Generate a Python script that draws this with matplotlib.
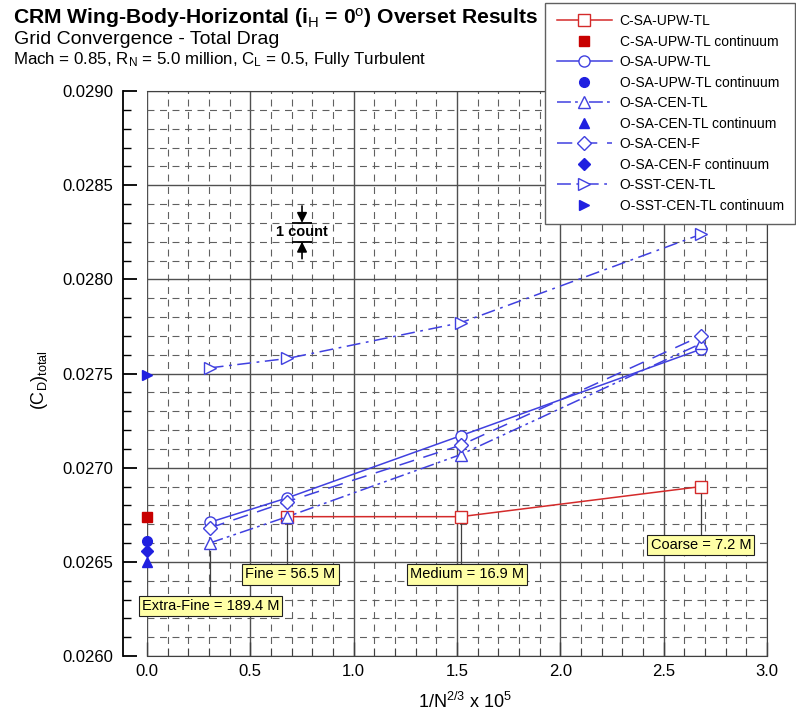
import numpy as np
import matplotlib
matplotlib.use('Agg')
import matplotlib.pyplot as plt
from matplotlib.ticker import MultipleLocator, FormatStrFormatter

plt.rcParams['font.family'] = ['Liberation Sans', 'DejaVu Sans']
plt.rcParams['mathtext.fontset'] = 'custom'
plt.rcParams['mathtext.rm'] = 'Liberation Sans'
plt.rcParams['mathtext.it'] = 'Liberation Sans'
plt.rcParams['mathtext.bf'] = 'Liberation Sans:bold'
plt.rcParams['lines.scale_dashes'] = False

# grids, extra-fine to coarse (millions of cells)
grid_names = ['Extra-Fine', 'Fine', 'Medium', 'Coarse']
grid_cells_M = [189.4, 56.5, 16.9, 7.2]
h = 1e5 / (np.array(grid_cells_M) * 1e6) ** (2.0 / 3.0)

# total drag per grid
c_sa_upw_tl = [np.nan, 0.02674, 0.02674, 0.02690]
o_sa_upw_tl = [0.02671, 0.02684, 0.02717, 0.02763]
o_sa_cen_tl = [0.02660, 0.02674, 0.02707, 0.02766]
o_sa_cen_f = [0.02668, 0.02682, 0.02712, 0.02770]
o_sst_cen_tl = [0.02753, 0.02758, 0.02777, 0.02824]

# extrapolated continuum values (h = 0)
cont_c_sa_upw_tl = 0.02674
cont_o_sa_upw_tl = 0.02661
cont_o_sa_cen_tl = 0.02650
cont_o_sa_cen_f = 0.02656
cont_o_sst_cen_tl = 0.02749

red = '#D42A2A'
red_fill = '#C80000'
blue = '#4040E0'
blue_fill = '#2020E0'

fig = plt.figure(figsize=(7.96, 7.13), dpi=100)
ax = fig.add_axes([0.1847, 0.0799, 0.7789, 0.7924])
ax.set_xlim(0, 3)
ax.set_ylim(0.026, 0.029)
ax.set_axisbelow(True)

ax.xaxis.set_major_locator(MultipleLocator(0.5))
ax.xaxis.set_minor_locator(MultipleLocator(0.1))
ax.yaxis.set_major_locator(MultipleLocator(0.0005))
ax.yaxis.set_minor_locator(MultipleLocator(0.0001))
ax.xaxis.set_major_formatter(FormatStrFormatter('%.1f'))
ax.yaxis.set_major_formatter(FormatStrFormatter('%.4f'))

ax.grid(which='major', color='#505050', lw=1.0, ls='-')
ax.grid(which='minor', color='#606060', lw=0.8, ls=(0, (5, 4)))

for s in ['top', 'right', 'bottom']:
    ax.spines[s].set_color('#404040')
ax.spines['left'].set_position(('outward', 17.5))
ax.spines['left'].set_linewidth(1.3)
ax.tick_params(axis='y', which='major', direction='in', length=10, width=1.3, labelsize=12, pad=7)
ax.tick_params(axis='y', which='minor', direction='in', length=6, width=1.0)
ax.tick_params(axis='x', which='major', direction='in', length=10, width=1.0, labelsize=12, pad=6, color='#404040')
ax.tick_params(axis='x', which='minor', direction='in', length=6, width=0.8, color='#404040')

ax.set_xlabel('1/N$^{2/3}$ x 10$^5$', fontsize=13)
ax.xaxis.set_label_coords(0.513, -0.064)
ax.set_ylabel('(C$_D$)$_{total}$', fontsize=13)
ax.yaxis.set_label_coords(-0.156, 0.488)

ms = 8
ax.plot(h, c_sa_upw_tl, color=red, lw=1.1, marker='s', ms=ms, mfc='white', mec=red,
        label='C-SA-UPW-TL', zorder=4)
ax.plot([0], [cont_c_sa_upw_tl], ls='none', marker='s', ms=7, color=red_fill,
        label='C-SA-UPW-TL continuum', zorder=4, clip_on=False)
ax.plot(h, o_sa_upw_tl, color=blue, lw=1.1, marker='o', ms=ms, mfc='white', mec=blue,
        label='O-SA-UPW-TL', zorder=4)
ax.plot([0], [cont_o_sa_upw_tl], ls='none', marker='o', ms=7, color=blue_fill,
        label='O-SA-UPW-TL continuum', zorder=4, clip_on=False)
ax.plot(h, o_sa_cen_tl, color=blue, lw=1.1, ls=(0, (10, 3, 2, 3, 2, 3)), marker='^', ms=ms,
        mfc='white', mec=blue, label='O-SA-CEN-TL', zorder=4)
ax.plot([0], [cont_o_sa_cen_tl], ls='none', marker='^', ms=7, color=blue_fill,
        label='O-SA-CEN-TL continuum', zorder=4, clip_on=False)
ax.plot(h, o_sa_cen_f, color=blue, lw=1.1, ls=(0, (11, 7)), marker='D', ms=7,
        mfc='white', mec=blue, label='O-SA-CEN-F', zorder=4)
ax.plot([0], [cont_o_sa_cen_f], ls='none', marker='D', ms=6.5, color=blue_fill,
        label='O-SA-CEN-F continuum', zorder=4, clip_on=False)
ax.plot(h, o_sst_cen_tl, color=blue, lw=1.1, ls=(0, (10, 4, 2, 4)), marker='>', ms=ms,
        mfc='white', mec=blue, label='O-SST-CEN-TL', zorder=4)
ax.plot([0], [cont_o_sst_cen_tl], ls='none', marker='>', ms=7, color=blue_fill,
        label='O-SST-CEN-TL continuum', zorder=4, clip_on=False)

# grid size call-outs with leader lines
label_xy = [(0.307, 0.026265), (0.694, 0.026433), (1.548, 0.026433), (2.68, 0.026589)]
all_series = np.array([c_sa_upw_tl, o_sa_upw_tl, o_sa_cen_tl, o_sa_cen_f, o_sst_cen_tl])
for i, name in enumerate(grid_names):
    lx, ly = label_xy[i]
    low = np.nanmin(all_series[:, i])
    ax.plot([h[i], h[i]], [ly, low - 0.00004], color='#404040', lw=0.9, zorder=5)
    ax.text(lx, ly, f'{name} = {grid_cells_M[i]} M', ha='center', va='center', fontsize=10.5,
            zorder=6, bbox=dict(boxstyle='square,pad=0.22', fc='#FFFFA6', ec='#202020', lw=0.8))

# one drag count scale marker
count_x = 0.75
count_lo = 0.0282
count_hi = 0.0283
ax.hlines([count_lo, count_hi], count_x - 0.05, count_x + 0.05, color='black', lw=1.3, zorder=5)
arrow = dict(arrowstyle='-|>,head_length=0.6,head_width=0.3', color='black', lw=1.2,
             shrinkA=0, shrinkB=0)
ax.annotate('', xy=(count_x, count_hi), xytext=(count_x, count_hi + 0.00009), arrowprops=arrow, zorder=5)
ax.annotate('', xy=(count_x, count_lo), xytext=(count_x, count_lo - 0.00009), arrowprops=arrow, zorder=5)
ax.text(count_x, (count_lo + count_hi) / 2, '1 count', ha='center', va='center',
        fontsize=10.5, fontweight='bold', zorder=5)

fig.text(12.7 / 796, 1 - 24 / 713, 'CRM Wing-Body-Horizontal (i$_\\mathrm{H}$ = 0$^\\mathrm{o}$) Overset Results',
         fontsize=15.2, fontweight='bold', va='baseline')
fig.text(14 / 796, 1 - 44 / 713, 'Grid Convergence - Total Drag', fontsize=14, va='baseline')
fig.text(12.7 / 796, 1 - 64 / 713, 'Mach = 0.85, R$_N$ = 5.0 million, C$_L$ = 0.5, Fully Turbulent',
         fontsize=12.2, va='baseline')

leg = fig.legend(loc='upper right', bbox_to_anchor=(0.9987, 0.9958), bbox_transform=fig.transFigure,
                 fontsize=10, fancybox=False, framealpha=1, edgecolor='#606060', handlelength=4.0,
                 labelspacing=0.47, borderpad=0.8, handletextpad=0.55, borderaxespad=0)
leg.get_frame().set_linewidth(1.0)

fig.savefig('out.png', dpi=100)
